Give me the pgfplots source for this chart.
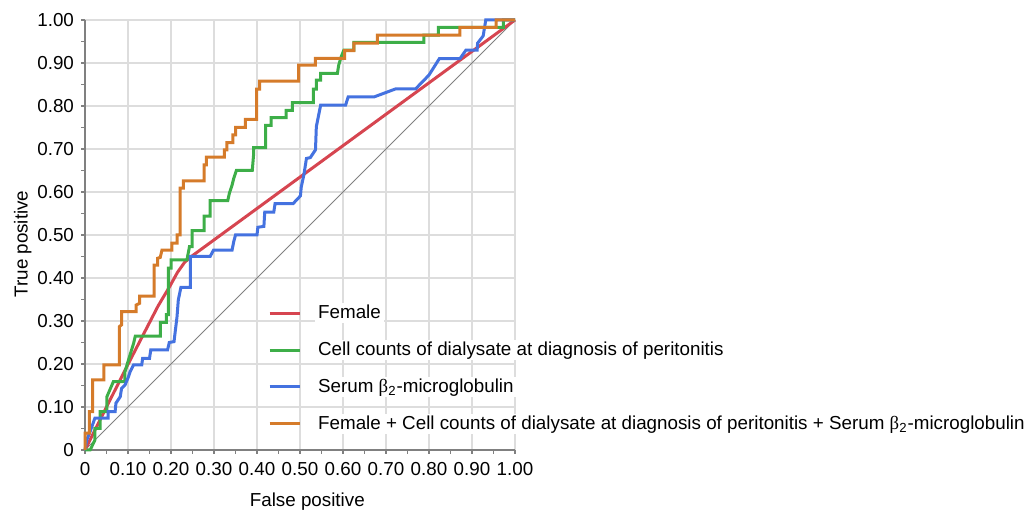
\documentclass[border=0pt]{standalone}
\usepackage{fontspec}
\setmainfont{Liberation Sans}
\newfontfamily\greekserif{Liberation Serif}
\usepackage{pgfplots}
\pgfplotsset{compat=1.18}
\definecolor{cRed}{RGB}{214,69,80}
\definecolor{cGreen}{RGB}{61,174,72}
\definecolor{cBlue}{RGB}{68,114,224}
\definecolor{cOrange}{RGB}{213,123,42}
\definecolor{gridc}{RGB}{221,221,221}
\definecolor{axc}{RGB}{128,128,128}
\newcommand{\betatwo}{{\greekserif β}\textsubscript{2}}
\begin{document}
\begin{tikzpicture}
\begin{axis}[
  width=215pt, height=215pt, scale only axis,
  xmin=0, xmax=1, ymin=0, ymax=1,
  clip=false,
  axis lines=left,
  axis line style={draw=axc, line width=1pt, -},
  xtick={0,0.1,0.2,0.3,0.4,0.5,0.6,0.7,0.8,0.9,1},
  ytick={0,0.1,0.2,0.3,0.4,0.5,0.6,0.7,0.8,0.9,1},
  xticklabels={0,0.10,0.20,0.30,0.40,0.50,0.60,0.70,0.80,0.90,1.00},
  yticklabels={0,0.10,0.20,0.30,0.40,0.50,0.60,0.70,0.80,0.90,1.00},
  minor x tick num=1, minor y tick num=1,
  tick align=outside,
  major tick length=2pt, minor tick length=2pt,
  tick style={draw=axc, line width=0.6pt},
  grid=major,
  major grid style={draw=gridc, line width=0.8pt},
  font=\fontsize{9.4}{11}\selectfont,
  xticklabel style={yshift=-0.5pt},
  xlabel={False positive}, ylabel={True positive},
  x label style={at={(axis description cs:0.517,-0.121)}, anchor=center},
  y label style={at={(axis description cs:-0.1445,0.479)}, anchor=center},
  legend cell align=left,
  legend style={at={(rel axis cs:0.425,0.342)}, anchor=north west,
    draw=none, fill=none, inner sep=0pt, row sep=8.5pt,
    nodes={fill=white, inner xsep=1.5pt, inner ysep=0.8pt},
    /tikz/every odd column/.append style={column sep=7pt},
    font=\fontsize{9.4}{11}\selectfont},
  legend image code/.code={\draw[#1] (0pt,0pt) -- (15pt,0pt);},
]
\addplot[draw=axc, line width=0.5pt, forget plot] coordinates {(0,0) (1,1)};

\addplot[cRed, line width=1.5pt] coordinates {
(0,0) (0.05,0.10) (0.105,0.209) (0.17,0.335) (0.198,0.382) (0.215,0.413) (0.232,0.437) (0.25,0.452) (1,1)};
\addlegendentry{Female}

\addplot[cGreen, line width=1.5pt] coordinates {
(0,0) (0.012,0) (0.023,0.023) (0.023,0.05) (0.035,0.05) (0.035,0.089) (0.051,0.089)
(0.051,0.124) (0.066,0.159) (0.093,0.159) (0.093,0.182) (0.101,0.209) (0.113,0.248)
(0.117,0.265) (0.175,0.265) (0.175,0.297) (0.189,0.297) (0.189,0.315) (0.194,0.315)
(0.194,0.423) (0.200,0.423) (0.200,0.442) (0.237,0.442) (0.243,0.473) (0.249,0.473)
(0.249,0.510) (0.277,0.510) (0.277,0.544) (0.291,0.544) (0.291,0.580) (0.332,0.580)
(0.336,0.598) (0.342,0.616) (0.346,0.632) (0.352,0.650) (0.389,0.650) (0.392,0.686)
(0.392,0.703) (0.420,0.703) (0.420,0.755) (0.433,0.755) (0.433,0.773) (0.468,0.773)
(0.468,0.790) (0.482,0.790) (0.482,0.808) (0.531,0.808) (0.531,0.839) (0.538,0.839)
(0.538,0.860) (0.548,0.860) (0.548,0.876) (0.587,0.876) (0.590,0.895) (0.596,0.915)
(0.602,0.930) (0.625,0.930) (0.625,0.948) (0.788,0.948) (0.788,0.965) (0.822,0.965)
(0.822,0.983) (0.973,0.983) (0.973,1.0) (1,1)};
\addlegendentry{Cell counts of dialysate at diagnosis of peritonitis}

\addplot[cBlue, line width=1.5pt] coordinates {
(0,0) (0.004,0.023) (0.012,0.043) (0.023,0.074) (0.054,0.074) (0.054,0.089) (0.070,0.089)
(0.072,0.109) (0.082,0.124) (0.085,0.143) (0.093,0.151) (0.101,0.170) (0.105,0.182)
(0.113,0.198) (0.132,0.198) (0.134,0.213) (0.150,0.213) (0.153,0.233) (0.192,0.233)
(0.196,0.250) (0.207,0.252) (0.214,0.310) (0.217,0.349) (0.223,0.378) (0.245,0.378)
(0.245,0.450) (0.291,0.450) (0.299,0.465) (0.342,0.465) (0.346,0.485) (0.350,0.500)
(0.400,0.500) (0.402,0.518) (0.416,0.520) (0.418,0.553) (0.439,0.553) (0.442,0.573)
(0.484,0.573) (0.501,0.591) (0.503,0.612) (0.509,0.640) (0.515,0.678) (0.524,0.680)
(0.536,0.698) (0.538,0.752) (0.548,0.802) (0.606,0.802) (0.612,0.821) (0.672,0.821)
(0.723,0.840) (0.769,0.840) (0.800,0.872) (0.824,0.910) (0.872,0.910) (0.886,0.930)
(0.912,0.930) (0.913,0.946) (0.926,0.963) (0.932,1.0) (1,1)};
\addlegendentry{Serum \betatwo-microglobulin}

\addplot[cOrange, line width=1.5pt] coordinates {
(0,0) (0,0.039) (0.010,0.039) (0.010,0.089) (0.018,0.089) (0.018,0.163) (0.044,0.163)
(0.044,0.198) (0.080,0.198) (0.080,0.287) (0.085,0.291) (0.085,0.322) (0.119,0.322)
(0.119,0.337) (0.127,0.341) (0.127,0.358) (0.161,0.358) (0.161,0.430) (0.169,0.430)
(0.169,0.446) (0.175,0.448) (0.179,0.465) (0.202,0.465) (0.202,0.481) (0.214,0.481)
(0.214,0.500) (0.221,0.500) (0.221,0.609) (0.229,0.609) (0.229,0.626) (0.277,0.626)
(0.277,0.663) (0.282,0.663) (0.282,0.681) (0.324,0.681) (0.324,0.698) (0.330,0.698)
(0.330,0.715) (0.344,0.715) (0.344,0.733) (0.350,0.733) (0.350,0.750) (0.373,0.750)
(0.373,0.769) (0.399,0.769) (0.399,0.839) (0.406,0.839) (0.406,0.858) (0.497,0.858)
(0.497,0.895) (0.536,0.895) (0.536,0.911) (0.604,0.911) (0.604,0.929) (0.625,0.929)
(0.625,0.946) (0.680,0.946) (0.680,0.965) (0.872,0.965) (0.872,0.983) (0.956,0.983)
(0.956,1.0) (1,1)};
\addlegendentry{Female + Cell counts of dialysate at diagnosis of peritonitis + Serum \betatwo-microglobulin}

\coordinate (BL) at (rel axis cs:-0.1977,-0.1465);
\coordinate (TR) at (rel axis cs:2.2047,1.0465);
\end{axis}
\path (BL) rectangle (TR);
\end{tikzpicture}
\end{document}
